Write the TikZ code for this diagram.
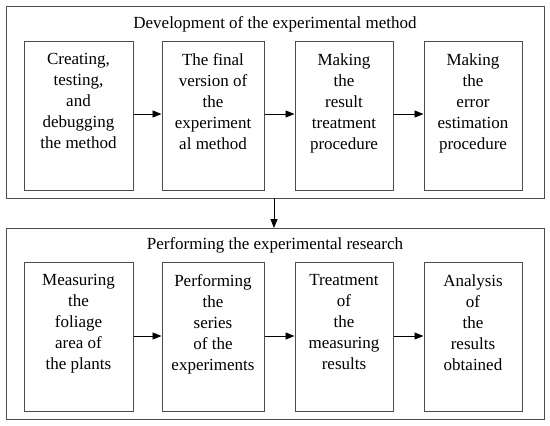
\documentclass[tikz,border=0pt]{standalone}
\usepackage{fontspec}
\setmainfont{Liberation Serif}
\usetikzlibrary{arrows.meta,positioning}
\tikzset{
  frame/.style={draw=black!70, line width=1pt},
  stepbox/.style={draw=black!70, line width=1pt, minimum height=149pt, inner sep=0pt},
  boxtext/.style={align=center, font=\fontsize{17}{21}\selectfont, anchor=north, inner sep=0pt},
  title/.style={font=\fontsize{17}{21}\selectfont, inner sep=0pt},
  conn/.style={draw=black, line width=0.9pt, -{Triangle[length=9pt,width=7pt]}}
}
\begin{document}
\begin{tikzpicture}[x=1pt,y=-1pt]
\useasboundingbox (0,0) rectangle (550,426);
% top frame
\draw[frame] (6,6) rectangle (544,198);
\node[title] (t1) at (275,24) {Development of the experimental method};
\node[stepbox, minimum width=109pt] (a1) at (78.5,115.5) {};
\node[stepbox, minimum width=102pt] (a2) at (213,115.5) {};
\node[stepbox, minimum width=98pt] (a3) at (344,115.5) {};
\node[stepbox, minimum width=98pt] (a4) at (473,115.5) {};
\node[boxtext] at ([yshift=-13pt]a1.north) {Creating,\\testing,\\and\\debugging\\the method};
\node[boxtext] at ([yshift=-13pt]a2.north) {The final\\version of\\the\\experiment\\al method};
\node[boxtext] at ([yshift=-13pt]a3.north) {Making\\the\\result\\treatment\\procedure};
\node[boxtext] at ([yshift=-13pt]a4.north) {Making\\the\\error\\estimation\\procedure};
\draw[conn] (a1.east |- 0,114) -- (a2.west |- 0,114);
\draw[conn] (a2.east |- 0,114) -- (a3.west |- 0,114);
\draw[conn] (a3.east |- 0,114) -- (a4.west |- 0,114);
% bottom frame
\draw[frame] (6,228) rectangle (544,419);
\node[title] (t2) at (275,245) {Performing the experimental research};
\node[stepbox, minimum width=109pt] (b1) at (78.5,336.5) {};
\node[stepbox, minimum width=102pt] (b2) at (213,336.5) {};
\node[stepbox, minimum width=98pt] (b3) at (344,336.5) {};
\node[stepbox, minimum width=98pt] (b4) at (473,336.5) {};
\node[boxtext] at ([yshift=-13pt]b1.north) {Measuring\\the\\foliage\\area of\\the plants};
\node[boxtext] at ([yshift=-13pt]b2.north) {Performing\\the\\series\\of the\\experiments};
\node[boxtext] at ([yshift=-13pt]b3.north) {Treatment\\of\\the\\measuring\\results};
\node[boxtext] at ([yshift=-13pt]b4.north) {Analysis\\of\\the\\results\\obtained};
\draw[conn] (b1.east |- 0,336) -- (b2.west |- 0,336);
\draw[conn] (b2.east |- 0,336) -- (b3.west |- 0,336);
\draw[conn] (b3.east |- 0,336) -- (b4.west |- 0,336);
% link between frames
\coordinate (f1) at (274,198);
\coordinate (f2) at (274,228);
\draw[conn] (f1) -- (f2);
\end{tikzpicture}
\end{document}
